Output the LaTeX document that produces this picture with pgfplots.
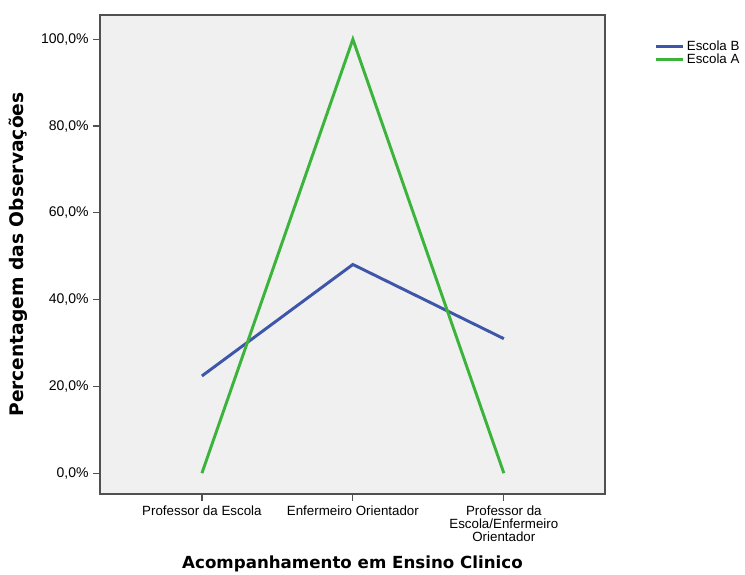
\documentclass[border=0pt]{standalone}
\usepackage{fontspec}
\setmainfont{Liberation Sans}
\newfontfamily\labfont{DejaVu Sans}
\usepackage{pgfplots}
\pgfplotsset{compat=1.18}
\definecolor{bgc}{RGB}{240,240,240}
\definecolor{axc}{RGB}{80,80,80}
\definecolor{blueB}{RGB}{62,86,170}
\definecolor{greenA}{RGB}{60,180,60}
\begin{document}
\begin{tikzpicture}
\begin{axis}[
  scale only axis,
  width=378.75pt, height=359.25pt,
  xmin=-0.675, xmax=2.67,
  ymin=-4.8, ymax=105.6,
  axis background/.style={fill=bgc},
  axis line style={draw=axc, line width=1.1pt},
  tick style={draw=axc, line width=0.9pt},
  tick align=outside,
  major tick length=5pt,
  xtick={0,1,2},
  xticklabels={Professor da Escola, Enfermeiro Orientador, {Professor da\\Escola/Enfermeiro\\Orientador}},
  xticklabel style={align=center, font=\fontsize{10}{10}\selectfont},
  ytick={0,20,40,60,80,100},
  yticklabels={{0,0\%},{20,0\%},{40,0\%},{60,0\%},{80,0\%},{100,0\%}},
  yticklabel style={font=\fontsize{10.5}{10}\selectfont},
  xtick pos=bottom, ytick pos=left,
  xlabel={Acompanhamento em Ensino Clinico},
  ylabel={Percentagem das Observações},
  xlabel style={font=\labfont\bfseries\fontsize{12.5}{14}\selectfont, at={(axis description cs:0.5,-0.146)}, anchor=center},
  ylabel style={font=\labfont\bfseries\fontsize{14}{16}\selectfont, at={(axis description cs:-0.162,0.5)}, anchor=center},
  legend style={draw=none, fill=none, at={(1,1)}, anchor=north west, xshift=36pt, yshift=-16pt,
    font=\fontsize{10}{10}\selectfont, row sep=-3pt, inner sep=1pt},
  legend cell align=left,
  legend image code/.code={\draw[#1] (0pt,0pt) -- (20pt,0pt);},
]
\addplot[blueB, line width=2.2pt] coordinates {(0,22.4) (1,48.1) (2,31.0)};
\addlegendentry{Escola B}
\addplot[greenA, line width=2.2pt] coordinates {(0,0) (1,100) (2,0)};
\addlegendentry{Escola A}
\coordinate (sw) at (rel axis cs:0,0);
\coordinate (ne) at (rel axis cs:1,1);
\end{axis}
\pgfresetboundingbox
\path ([xshift=-75pt,yshift=-60pt]sw) rectangle ([xshift=105pt,yshift=11.25pt]ne);
\end{tikzpicture}
\end{document}
